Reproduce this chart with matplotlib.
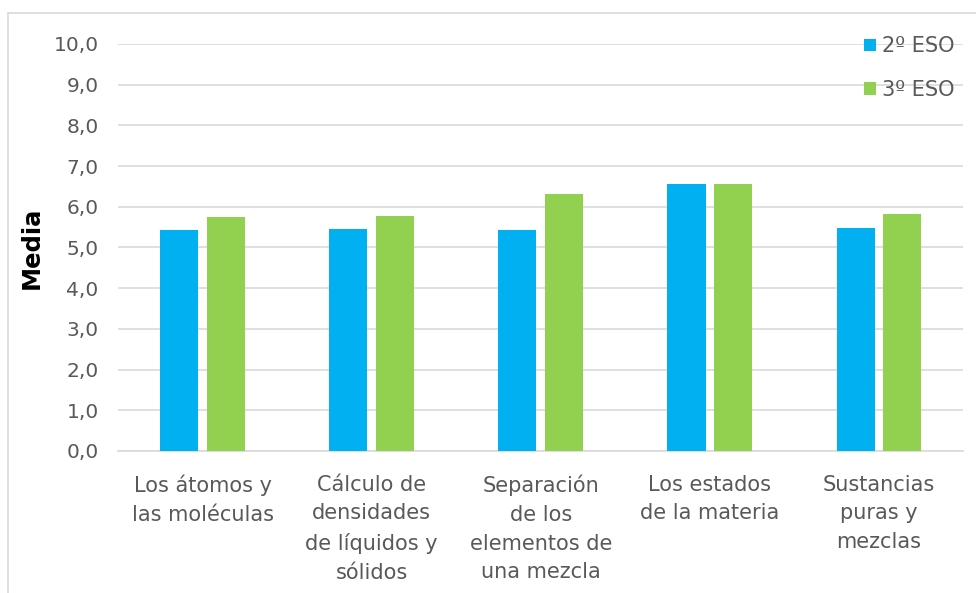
import numpy as np
import matplotlib.pyplot as plt
from matplotlib.patches import Rectangle

# Data
categories = ['Los átomos y\nlas moléculas', 'Cálculo de\ndensidades\nde líquidos y\nsólidos',
              'Separación\nde los\nelementos de\nuna mezcla', 'Los estados\nde la materia',
              'Sustancias\npuras y\nmezclas']
eso2 = [5.42, 5.46, 5.42, 6.56, 5.48]
eso3 = [5.74, 5.78, 6.31, 6.56, 5.81]
yticks = np.arange(0, 10.01, 1.0)

plt.rcParams['font.family'] = ['DejaVu Sans']
text_color = '#595959'

fig = plt.figure(figsize=(9.76, 5.93), dpi=100)
ax = fig.add_axes([0.121, 0.2395, 0.866, 0.6865])

# outer chart border
fig.patches.append(Rectangle((8 / 976, -0.01), 1.0, 1 - 13 / 593 + 0.01, transform=fig.transFigure,
                             fill=False, edgecolor='#d9d9d9', linewidth=1.2))

x = np.arange(len(categories))
w = 0.225
gap = 0.025
ax.bar(x - w / 2 - gap, eso2, w, color='#00B0F0', label='2º ESO', zorder=3)
ax.bar(x + w / 2 + gap, eso3, w, color='#92D050', label='3º ESO', zorder=3)

ax.set_xlim(-0.5, len(categories) - 0.5)
ax.set_ylim(0, 10)
ax.set_yticks(yticks)
ax.set_yticklabels([f'{v:.1f}'.replace('.', ',') for v in yticks], fontsize=14.5, color=text_color)
ax.set_xticks(x)
ax.set_xticklabels(categories, fontsize=15, color=text_color, linespacing=1.55)
ax.tick_params(axis='y', length=0, pad=14)
ax.tick_params(axis='x', length=0, pad=17)
ax.grid(axis='y', color='#d9d9d9', linewidth=1.2, zorder=0)
for s in ['top', 'right', 'left']:
    ax.spines[s].set_visible(False)
ax.spines['bottom'].set_color('#d9d9d9')
ax.spines['bottom'].set_linewidth(1.2)

ax.set_ylabel('Media', fontsize=17.5, fontweight='bold', color='black', labelpad=7)

leg = ax.legend(loc='upper right', bbox_to_anchor=(1.012, 1.065), frameon=False, fontsize=15,
                handlelength=0.55, handleheight=0.55, handletextpad=0.3, labelspacing=1.15)
for t in leg.get_texts():
    t.set_color(text_color)

fig.savefig('out.png', dpi=100)
